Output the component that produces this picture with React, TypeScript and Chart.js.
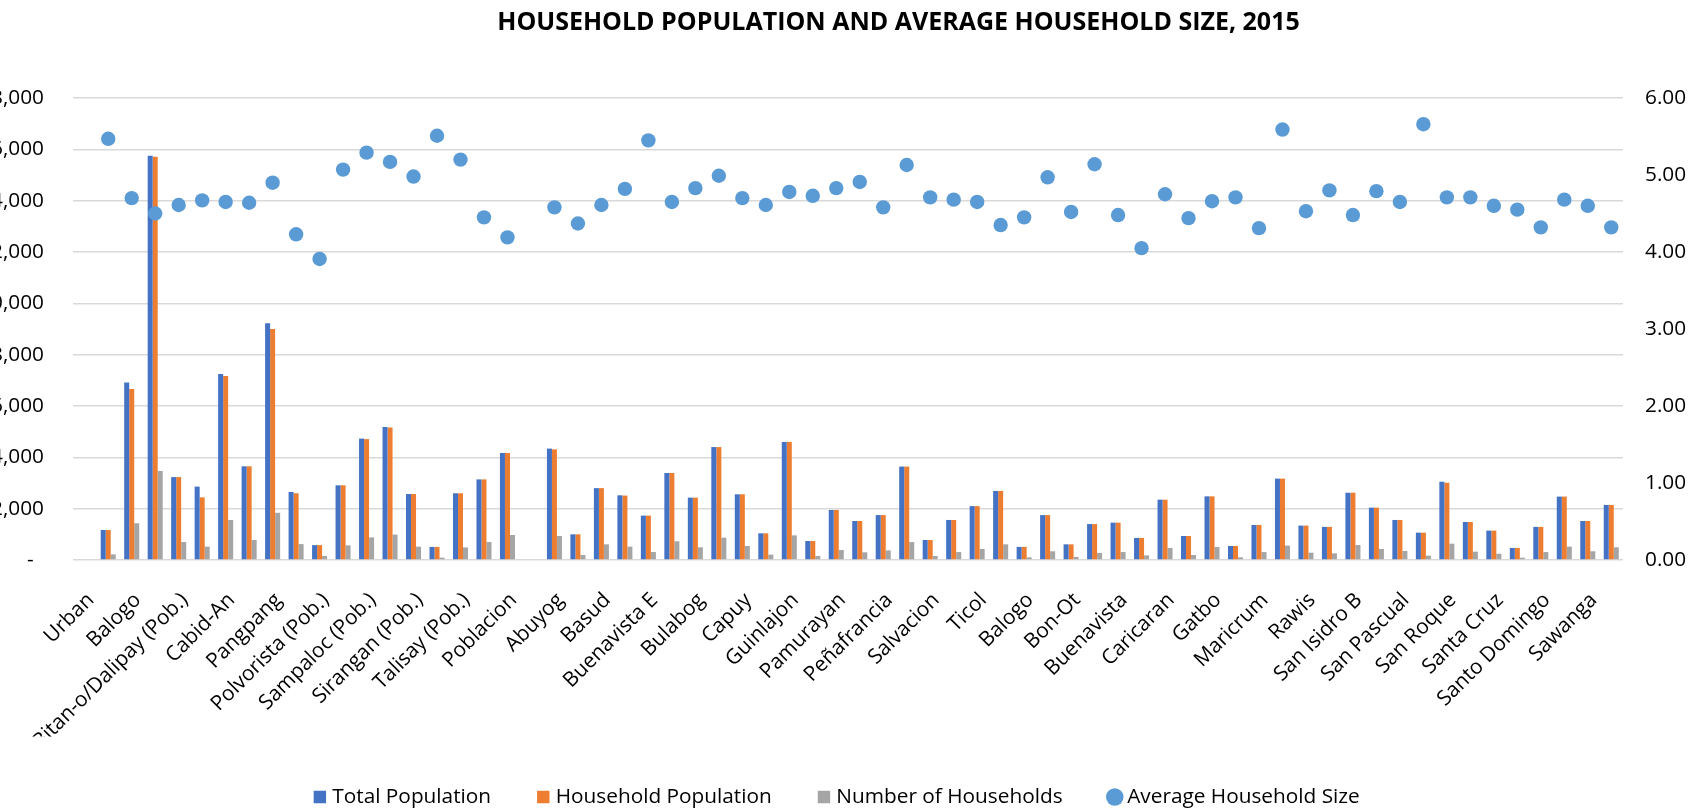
import React, { useEffect, useRef } from 'react';
import { Chart, registerables } from 'chart.js';

Chart.register(...registerables);

const TITLE = 'HOUSEHOLD POPULATION AND AVERAGE HOUSEHOLD SIZE, 2015';

const categories: string[] = [
  'Urban', 'Almendras-Cogon (Pob.)', 'Balogo', 'Bibincahan', 'Bitan-o/Dalipay (Pob.)', 'Burabod (Pob.)',
  'Cabid-An', 'Macabog', 'Pangpang', 'Piot (Pob.)', 'Polvorista (Pob.)', 'Salog (Pob.)',
  'Sampaloc (Pob.)', 'San Juan (Roro)', 'Sirangan (Pob.)', 'Sulucan (Pob.)', 'Talisay (Pob.)', 'Tugos',
  'Poblacion', 'Rural', 'Abuyog', 'Barayong', 'Basud', 'Bucalbucalan',
  'Buenavista E', 'Buhatan', 'Bulabog', 'Cambulaga', 'Capuy', 'Gimaloto',
  'Guinlajon', 'Marinas', 'Pamurayan', 'Panlayaan', 'Peñafrancia', 'Rizal',
  'Salvacion', 'San Isidro', 'Ticol', 'Balete', 'Balogo', 'Bato',
  'Bon-Ot', 'Bogña', 'Buenavista', 'Cabarbuhan', 'Caricaran', 'Del Rosario',
  'Gatbo', 'Jamislagan', 'Maricrum', 'Osiao', 'Rawis', 'Salvacion',
  'San Isidro B', 'San Jose', 'San Pascual', 'San Ramon', 'San Roque', 'San Vicente',
  'Santa Cruz', 'Santa Lucia', 'Santo Domingo', 'Santo Niño', 'Sawanga', 'Sugod',
];

const totalPopulation: (number | null)[] = [
  null, 1170, 6920, 15750, 3230, 2860,
  7250, 3650, 9220, 2650, 580, 2910,
  4730, 5180, 2570, 510, 2600, 3140,
  4170, null, 4340, 1000, 2800, 2520,
  1730, 3390, 2430, 4400, 2560, 1040,
  4600, 740, 1950, 1520, 1750, 3640,
  780, 1560, 2100, 2690, 510, 1750,
  610, 1400, 1455, 860, 2350, 935,
  2480, 545, 1365, 3170, 1340, 1290,
  2620, 2040, 1560, 1065, 3050, 1480,
  1145, 470, 1290, 2470, 1520, 2145,
];

const householdPopulation: (number | null)[] = [
  null, 1170, 6660, 15710, 3230, 2440,
  7170, 3650, 9000, 2600, 580, 2910,
  4710, 5160, 2570, 510, 2600, 3140,
  4170, null, 4310, 1000, 2800, 2510,
  1730, 3390, 2430, 4400, 2560, 1040,
  4600, 740, 1950, 1520, 1750, 3640,
  780, 1560, 2100, 2690, 510, 1750,
  610, 1400, 1455, 860, 2350, 935,
  2480, 545, 1365, 3170, 1340, 1290,
  2620, 2040, 1560, 1065, 3010, 1480,
  1145, 470, 1290, 2470, 1520, 2145,
];

const numberOfHouseholds: (number | null)[] = [
  null, 220, 1430, 3470, 700, 520,
  1560, 780, 1840, 620, 155, 570,
  880, 990, 520, 90, 490, 700,
  975, null, 935, 195, 610, 520,
  310, 730, 495, 870, 545, 210,
  960, 155, 390, 300, 375, 700,
  155, 310, 430, 610, 105, 340,
  120, 275, 310, 180, 470, 195,
  505, 105, 310, 560, 285, 260,
  585, 430, 350, 170, 635, 325,
  245, 90, 310, 520, 340, 495,
];

const averageHouseholdSize: (number | null)[] = [
  null, 5.47, 4.70, 4.50, 4.61, 4.67,
  4.65, 4.64, 4.90, 4.23, 3.91, 5.07,
  5.29, 5.17, 4.98, 5.51, 5.20, 4.45,
  4.19, null, 4.58, 4.37, 4.61, 4.82,
  5.45, 4.65, 4.83, 4.99, 4.70, 4.61,
  4.78, 4.73, 4.83, 4.91, 4.58, 5.13,
  4.71, 4.68, 4.65, 4.35, 4.45, 4.97,
  4.52, 5.14, 4.48, 4.05, 4.75, 4.44,
  4.66, 4.71, 4.31, 5.59, 4.53, 4.80,
  4.48, 4.79, 4.65, 5.66, 4.71, 4.71,
  4.60, 4.55, 4.32, 4.68, 4.60, 4.32,
];

const FONT = '"Open Sans"';
const TEXT = '#000000';

const titlePlugin = {
  id: 'pageTitle',
  afterDraw(chart: any, _args: any, opts: any) {
    const ctx = chart.ctx;
    ctx.save();
    ctx.font = `bold ${opts.size}px ${FONT}`;
    ctx.fillStyle = TEXT;
    ctx.textAlign = 'center';
    ctx.textBaseline = 'alphabetic';
    ctx.fillText(opts.text, opts.x, opts.y);
    ctx.restore();
  },
};

const CANVAS_W = 1745;
const CANVAS_H = 850;

export default function App() {
  const ref = useRef<HTMLCanvasElement | null>(null);

  useEffect(() => {
    let chart: Chart | null = null;
    let cancelled = false;
    const build = () => {
      if (cancelled || !ref.current) return;
      const font = { family: FONT, size: 20.8 };
      chart = new Chart(ref.current, {
        type: 'bar',
        data: {
          labels: categories,
          datasets: [
            {
              type: 'bar',
              label: 'Total Population',
              data: totalPopulation,
              backgroundColor: '#4472C4',
              yAxisID: 'y',
              pointStyle: 'rect',
              order: 1,
            } as any,
            {
              type: 'bar',
              label: 'Household Population',
              data: householdPopulation,
              backgroundColor: '#ED7D31',
              yAxisID: 'y',
              pointStyle: 'rect',
              order: 1,
            } as any,
            {
              type: 'bar',
              label: 'Number of Households',
              data: numberOfHouseholds,
              backgroundColor: '#A5A5A5',
              yAxisID: 'y',
              pointStyle: 'rect',
              order: 1,
            } as any,
            {
              type: 'line',
              label: 'Average Household Size',
              data: averageHouseholdSize,
              yAxisID: 'y1',
              showLine: false,
              pointRadius: 7.2,
              pointBorderWidth: 0,
              borderWidth: 0,
              pointBackgroundColor: '#5B9BD5',
              backgroundColor: '#5B9BD5',
              borderColor: '#5B9BD5',
              pointStyle: 'circle',
              order: 0,
            } as any,
          ],
        },
        options: {
          responsive: false,
          animation: false,
          datasets: { bar: { categoryPercentage: 0.64, barPercentage: 1.0 } },
          layout: { padding: { top: 98, left: 28.6, right: 16, bottom: 32.6 } },
          plugins: {
            title: { display: false },
            tooltip: { enabled: false },
            legend: {
              position: 'bottom',
              align: 'center',
              labels: {
                usePointStyle: true,
                boxWidth: 4,
                boxHeight: 12.4,
                padding: 50.2,
                color: TEXT,
                font,
                sort: (a: any, b: any) => a.datasetIndex - b.datasetIndex,
              },
            },
            pageTitle: { text: TITLE, x: 938.5, y: 29.5, size: 25 },
          } as any,
          scales: {
            x: {
              grid: { display: false },
              border: { display: false },
              ticks: {
                autoSkip: false,
                maxRotation: 45,
                minRotation: 45,
                padding: 20,
                labelOffset: 6,
                color: TEXT,
                font,
                callback: (_v: any, index: number) => (index % 2 === 0 ? categories[index] : ''),
              },
              afterFit: (s: any) => { s.height = 176.4; },
            },
            y: {
              position: 'left',
              min: 0,
              max: 18000,
              ticks: {
                stepSize: 2000,
                padding: 29,
                color: TEXT,
                font,
                callback: (v: any) => (Number(v) === 0 ? '-\u2002' : Number(v).toLocaleString('en-US')),
              },
              grid: { color: '#d9d9d9', lineWidth: 1.5, drawTicks: false },
              border: { display: false },
              afterFit: (s: any) => { s.width = 84.4; },
            },
            y1: {
              position: 'right',
              min: 0,
              max: 6,
              ticks: {
                stepSize: 1,
                padding: 22,
                color: TEXT,
                font,
                callback: (v: any) => Number(v).toFixed(2),
              },
              grid: { drawOnChartArea: false, drawTicks: false },
              border: { display: false },
              afterFit: (s: any) => { s.width = 66; },
            },
          },
        },
        plugins: [titlePlugin],
      } as any);
    };
    const fonts = (document as any).fonts;
    if (fonts && fonts.load) {
      Promise.all([fonts.load(`20.8px ${FONT}`), fonts.load(`bold 25px ${FONT}`)])
        .catch(() => undefined)
        .then(build);
    } else {
      build();
    }
    return () => {
      cancelled = true;
      if (chart) chart.destroy();
    };
  }, []);

  return (
    <div style={{ position: 'fixed', left: -40, top: 0, width: CANVAS_W, height: CANVAS_H, background: '#ffffff' }}>
      <canvas ref={ref} width={CANVAS_W} height={CANVAS_H} style={{ display: 'block' }} />
    </div>
  );
}
